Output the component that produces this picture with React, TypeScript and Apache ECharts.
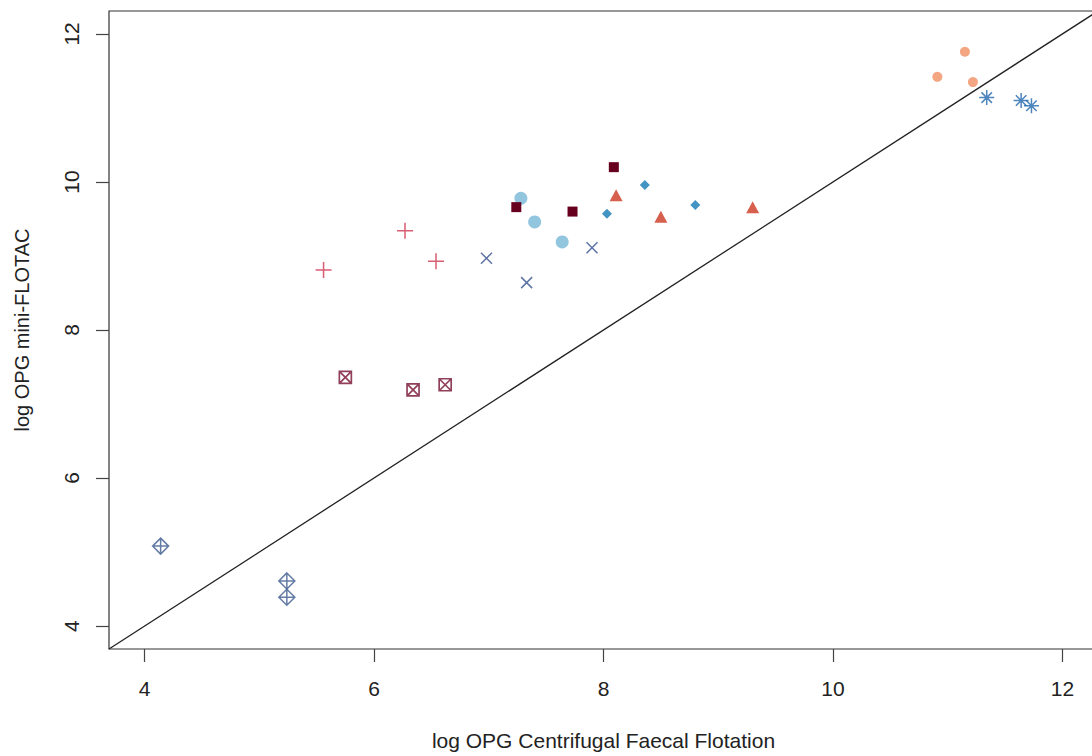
import React, { useEffect, useRef } from "react";
import * as echarts from "echarts";

// axis settings
const axisMin = 3.69;
const axisMax = 12.31;
const tickValues = [4, 6, 8, 10, 12];

// reference line y = x
const identityLine = [
  [3.69, 3.69],
  [12.31, 12.31],
];

// groups of points [x, y] (log OPG centrifugal, log OPG mini-FLOTAC)
const plusPts = [
  [5.56, 8.81],
  [6.27, 9.34],
  [6.54, 8.93],
];
const crossSquarePts = [
  [5.75, 7.36],
  [6.34, 7.19],
  [6.62, 7.26],
];
const xPts = [
  [6.98, 8.97],
  [7.33, 8.64],
  [7.9, 9.11],
];
const lightCirclePts = [
  [7.28, 9.78],
  [7.4, 9.46],
  [7.64, 9.19],
];
const squarePts = [
  [7.24, 9.66],
  [7.73, 9.6],
  [8.09, 10.2],
];
const diamondPts = [
  [8.03, 9.57],
  [8.36, 9.96],
  [8.8, 9.69],
];
const trianglePts = [
  [8.11, 9.82],
  [8.5, 9.53],
  [9.3, 9.66],
];
const salmonCirclePts = [
  [10.91, 11.42],
  [11.15, 11.76],
  [11.22, 11.35],
];
const asteriskPts = [
  [11.34, 11.14],
  [11.64, 11.1],
  [11.73, 11.03],
];
const diamondPlusPts = [
  [4.14, 5.08],
  [5.24, 4.61],
  [5.24, 4.39],
];

const FONT = "'Liberation Sans', Arial, Helvetica, sans-serif";

const PLUS = "path://M5 0 L5 10 M0 5 L10 5";
const CROSS = "path://M0 0 L10 10 M10 0 L0 10";
const CROSS_SQUARE = "path://M0 0 L10 0 L10 10 L0 10 Z M0 0 L10 10 M10 0 L0 10";
const ASTERISK = "path://M5 0 L5 10 M0 5 L10 5 M1.5 1.5 L8.5 8.5 M8.5 1.5 L1.5 8.5";
const DIAMOND_PLUS = "path://M5 0 L10 5 L5 10 L0 5 Z M5 0 L5 10 M0 5 L10 5";

function strokeSeries(data: number[][], symbol: string, size: number, color: string, width = 1.5) {
  return {
    type: "scatter",
    data,
    symbol,
    symbolSize: size,
    itemStyle: { color: "rgba(0,0,0,0)", borderColor: color, borderWidth: width },
    z: 3,
  };
}

function fillSeries(data: number[][], symbol: string, size: number | number[], color: string) {
  return {
    type: "scatter",
    data,
    symbol,
    symbolSize: size,
    itemStyle: { color, opacity: 1 },
    z: 3,
  };
}

export default function App() {
  const ref = useRef<HTMLDivElement>(null);

  useEffect(() => {
    if (!ref.current) return;
    const chart = echarts.init(ref.current, undefined, { renderer: "svg" });
    const axisCommon = {
      type: "value",
      min: axisMin,
      max: axisMax,
      nameLocation: "middle",
      nameTextStyle: { fontFamily: FONT, fontSize: 21, color: "#222" },
      axisLine: { show: false },
      splitLine: { show: false },
      axisTick: {
        show: true,
        length: 13,
        customValues: tickValues,
        lineStyle: { color: "#444", width: 1.2 },
      },
      axisLabel: {
        customValues: tickValues,
        fontFamily: FONT,
        fontSize: 21,
        color: "#222",
      },
    };
    chart.setOption({
      animation: false,
      backgroundColor: "#ffffff",
      grid: {
        left: 109,
        top: 11,
        width: 989,
        height: 638,
        outerBoundsMode: "none",
        containLabel: false,
        show: true,
        borderColor: "#333",
        borderWidth: 1.2,
        backgroundColor: "transparent",
      },
      xAxis: {
        ...axisCommon,
        name: "log OPG Centrifugal Faecal Flotation",
        nameGap: 81,
        axisLabel: { ...axisCommon.axisLabel, margin: 29 },
      },
      yAxis: {
        ...axisCommon,
        name: "log OPG mini-FLOTAC",
        nameGap: 77,
        nameRotate: 90,
        nameTextStyle: { fontFamily: FONT, fontSize: 20, color: "#222" },
        axisLabel: { ...axisCommon.axisLabel, margin: 27, rotate: 90 },
      },
      series: [
        {
          type: "line",
          data: identityLine,
          symbol: "none",
          lineStyle: { color: "#222", width: 1.3 },
          z: 2,
        },
        strokeSeries(plusPts, PLUS, 16, "#cf3450", 1.5),
        strokeSeries(crossSquarePts, CROSS_SQUARE, 12, "#74102f", 1.7),
        strokeSeries(xPts, CROSS, 11, "#34508c", 1.5),
        fillSeries(lightCirclePts, "circle", 13, "#92c5de"),
        fillSeries(squarePts, "rect", 10, "#67001f"),
        fillSeries(diamondPts, "diamond", 10, "#4393c3"),
        fillSeries(trianglePts, "triangle", [13, 12], "#d6604d"),
        fillSeries(salmonCirclePts, "circle", 10, "#f4a582"),
        strokeSeries(asteriskPts, ASTERISK, 15, "#2166ac", 1.5),
        strokeSeries(diamondPlusPts, DIAMOND_PLUS, 16, "#3d5a8f", 1.5),
      ],
    });
    return () => chart.dispose();
  }, []);

  return (
    <div
      style={{
        position: "absolute",
        left: 0,
        top: 0,
        width: 1092,
        height: 756,
        overflow: "hidden",
      }}
    >
      <div ref={ref} style={{ width: 1100, height: 756 }} />
    </div>
  );
}
